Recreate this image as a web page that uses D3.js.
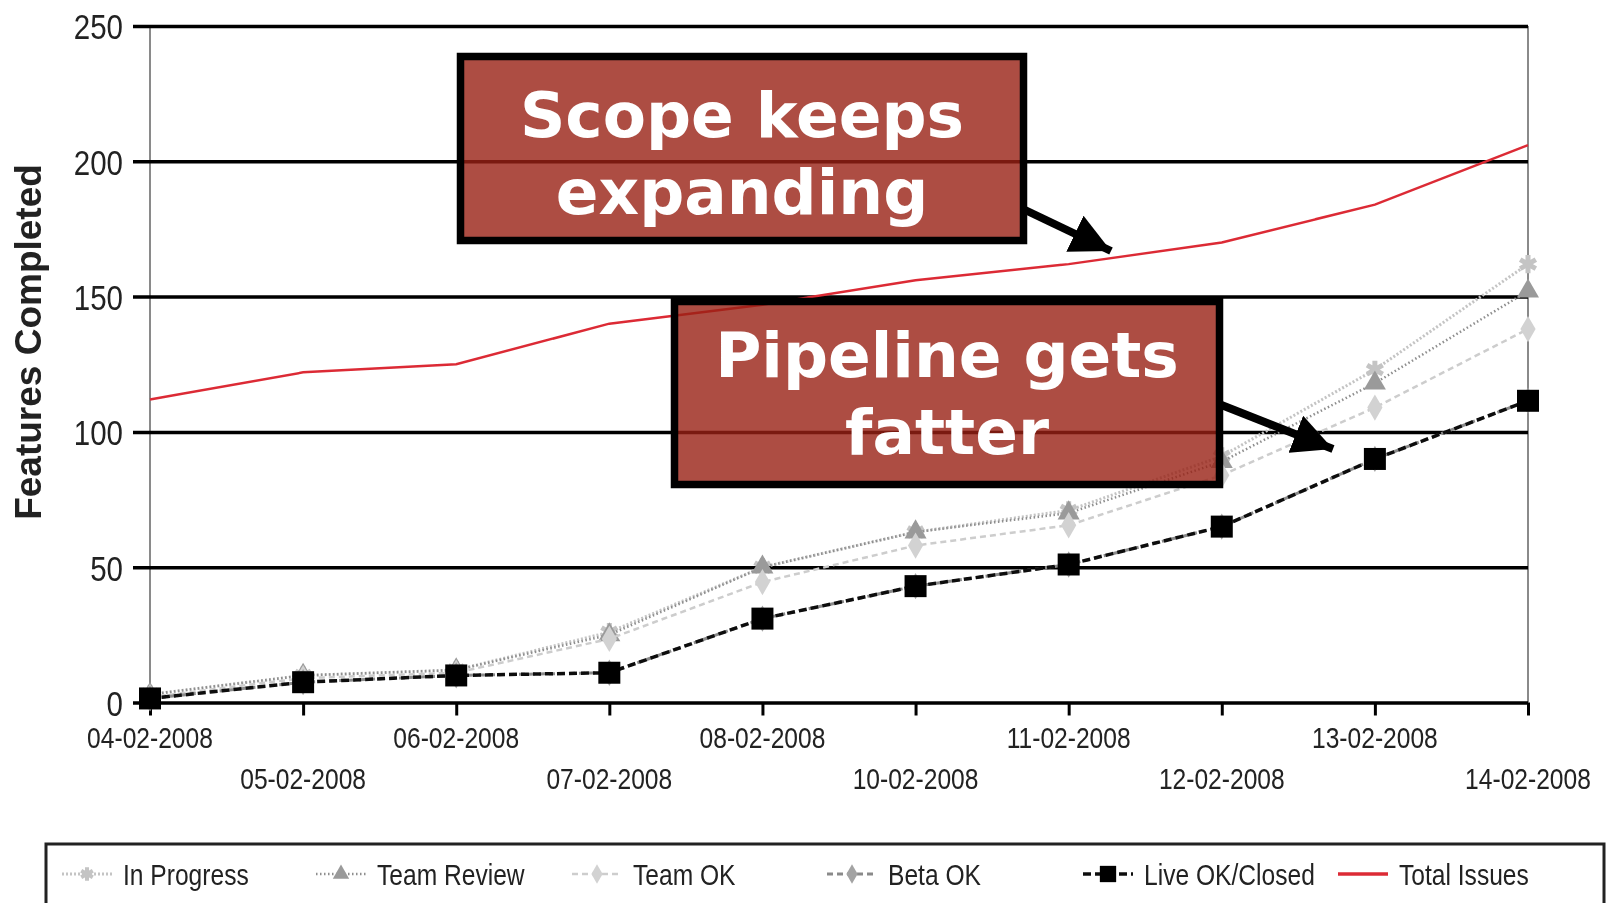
<!DOCTYPE html>
<html>
<head>
<meta charset="utf-8">
<script src="https://cdn.jsdelivr.net/npm/d3@7"></script>
<style>
  html, body { margin: 0; padding: 0; background: #fff; }
  svg { display: block; }
</style>
</head>
<body>
<svg id="chart" width="1610" height="903"></svg>
<script>
// Dates on the x axis (working days)
const dates = ["04-02-2008", "05-02-2008", "06-02-2008", "07-02-2008", "08-02-2008",
               "10-02-2008", "11-02-2008", "12-02-2008", "13-02-2008", "14-02-2008"];

// Cumulative feature counts per stage
const inProgress  = [3, 10, 12, 26, 50, 63, 71, 91, 123, 162];
const teamReview  = [3, 10, 12, 25, 50, 63, 70, 89, 118, 152];
const teamOK      = [2, 9, 11, 23.5, 44.5, 58, 65.5, 84, 109, 138];
const betaOK      = [1.5, 7.5, 10, 11, 31, 43, 51, 65, 90, 111.5];
const liveClosed  = [1.5, 7.5, 10, 11, 31, 43, 51, 65, 90, 111.5];
const totalIssues = [112, 122, 125, 140, 147, 156, 162, 170, 184, 206];

const yTicks = [0, 50, 100, 150, 200, 250];
const yTitle = "Features Completed";

const calloutScope = ["Scope keeps", "expanding"];
const calloutPipe  = ["Pipeline gets", "fatter"];

const seriesNames = ["In Progress", "Team Review", "Team OK", "Beta OK", "Live OK/Closed", "Total Issues"];

// ---- styling per series ----
const styles = [
  { values: inProgress,  color: "#c4c4c4", width: 3,   dash: "2,2", marker: d3.symbolAsterisk, mfill: "none", mstroke: "#c4c4c4", msize: 230, mwidth: 5 },
  { values: teamReview,  color: "#8e8e8e", width: 2.5, dash: "1.5,2.5", marker: d3.symbolTriangle, mfill: "#9a9a9a", mstroke: "none", msize: 210, mwidth: 0 },
  { values: teamOK,      color: "#cdcdcd", width: 2.5, dash: "6,4", marker: d3.symbolDiamond, mfill: "#d2d2d2", mstroke: "none", msize: 200, mwidth: 0 },
  { values: betaOK,      color: "#8a8a8a", width: 3,   dash: "6,4", marker: d3.symbolDiamond, mfill: "#a3a3a3", mstroke: "none", msize: 200, mwidth: 0 },
  { values: liveClosed,  color: "#111111", width: 3.5, dash: "8,4", marker: d3.symbolSquare, mfill: "#000", mstroke: "none", msize: 484, mwidth: 0 },
  { values: totalIssues, color: "#dc2b35", width: 2.5, dash: null,  marker: null }
];

const svg = d3.select("#chart");
const defs = svg.append("defs");
defs.append("filter").attr("id", "soft")
  .attr("x", "-5%").attr("y", "-5%").attr("width", "110%").attr("height", "110%")
  .append("feGaussianBlur").attr("stdDeviation", 0.6);

const plotLeft = 150, plotRight = 1528, plotTop = 26, plotBottom = 702.5;
const x = d3.scalePoint().domain(dates).range([plotLeft, plotRight]);
const y = d3.scaleLinear().domain([0, 250]).range([plotBottom, plotTop]);

const textColor = "#222";
const squeeze = 0.82; // narrow lettering used by the chart's labels

const chart = svg.append("g").attr("filter", "url(#soft)");

// vertical frame lines
chart.append("line").attr("x1", plotLeft).attr("x2", plotLeft).attr("y1", plotTop).attr("y2", plotBottom)
  .attr("stroke", "#8a8a8a").attr("stroke-width", 2);
chart.append("line").attr("x1", plotRight).attr("x2", plotRight).attr("y1", plotTop).attr("y2", plotBottom)
  .attr("stroke", "#8a8a8a").attr("stroke-width", 2);

// y axis with full-width gridlines
const yAxis = d3.axisLeft(y).tickValues(yTicks).tickSize(plotRight - 133).tickPadding(10);
const yg = chart.append("g").attr("transform", `translate(${plotRight},0)`).call(yAxis);
yg.select(".domain").remove();
yg.selectAll(".tick line").attr("stroke", "#000").attr("stroke-width", 3.5);
yg.selectAll(".tick text").each(function () {
  const t = d3.select(this);
  const tx = +t.attr("x");
  t.attr("x", 0).attr("transform", `translate(${tx},0) scale(${squeeze},1)`);
})
  .attr("font-family", "'Liberation Sans', Arial, sans-serif")
  .attr("font-size", 36).attr("fill", textColor).attr("dy", "0.36em");

// x axis ticks
const xAxis = d3.axisBottom(x).tickSize(13).tickFormat("");
const xg = chart.append("g").attr("transform", `translate(0,${plotBottom})`).call(xAxis);
xg.select(".domain").remove();
xg.selectAll(".tick line").attr("stroke", "#000").attr("stroke-width", 3);

// x tick labels, staggered on two rows
chart.append("g").selectAll("text").data(dates).join("text")
  .attr("transform", (d, i) => `translate(${x(d)},${i % 2 === 0 ? 748 : 789}) scale(${squeeze},1)`)
  .attr("text-anchor", "middle")
  .attr("font-family", "'Liberation Sans', Arial, sans-serif")
  .attr("font-size", 30).attr("fill", textColor)
  .text(d => d);

// y axis title
chart.append("text")
  .attr("transform", "translate(41,342) rotate(-90)")
  .attr("text-anchor", "middle")
  .attr("font-family", "'Liberation Sans', Arial, sans-serif")
  .attr("font-weight", "bold").attr("font-size", 37).attr("fill", textColor)
  .text(yTitle);

// series lines and markers
const line = d3.line().x((d, i) => x(dates[i])).y(d => y(d));
styles.forEach(s => {
  const g = chart.append("g");
  g.append("path").datum(s.values)
    .attr("d", line).attr("fill", "none")
    .attr("stroke", s.color).attr("stroke-width", s.width)
    .attr("stroke-dasharray", s.dash);
  if (s.marker) {
    g.selectAll("path.m").data(s.values).join("path").attr("class", "m")
      .attr("transform", (d, i) => `translate(${x(dates[i])},${y(d)})`)
      .attr("d", d3.symbol(s.marker, s.msize))
      .attr("fill", s.mfill).attr("stroke", s.mstroke).attr("stroke-width", s.mwidth);
  }
});

// legend
const legend = chart.append("g");
legend.append("rect").attr("x", 46).attr("y", 844).attr("width", 1558).attr("height", 80)
  .attr("fill", "#fff").attr("stroke", "#222").attr("stroke-width", 3);
const legendX = [62, 316, 572, 827, 1083, 1338];
const ly = 874;
styles.forEach((s, i) => {
  const g = legend.append("g").attr("transform", `translate(${legendX[i]},${ly})`);
  g.append("line").attr("x1", 0).attr("x2", 50).attr("y1", 0).attr("y2", 0)
    .attr("stroke", s.color).attr("stroke-width", s.marker ? s.width : 3.5)
    .attr("stroke-dasharray", s.dash);
  if (s.marker) {
    g.append("path").attr("transform", "translate(25,0)")
      .attr("d", d3.symbol(s.marker, s.msize * 0.55))
      .attr("fill", s.mfill).attr("stroke", s.mstroke).attr("stroke-width", s.mwidth * 0.8);
  }
  g.append("text")
    .attr("transform", `translate(61,11) scale(${squeeze},1)`)
    .attr("font-family", "'Liberation Sans', Arial, sans-serif")
    .attr("font-size", 30).attr("fill", textColor)
    .text(seriesNames[i]);
});

// ---- callouts ----
const notes = svg.append("g");
defs.append("marker").attr("id", "head")
  .attr("viewBox", "0 0 10 10").attr("refX", 10).attr("refY", 5)
  .attr("markerUnits", "userSpaceOnUse")
  .attr("markerWidth", 40).attr("markerHeight", 40).attr("orient", "auto")
  .append("path").attr("d", "M0,0 L10,5 L0,10 Z").attr("fill", "#000");

function callout(box, lines, baselines, arrow) {
  notes.append("line")
    .attr("x1", arrow[0]).attr("y1", arrow[1]).attr("x2", arrow[2]).attr("y2", arrow[3])
    .attr("stroke", "#000").attr("stroke-width", 8)
    .attr("marker-end", "url(#head)");
  notes.append("rect")
    .attr("x", box[0] + 3.5).attr("y", box[1] + 3.5)
    .attr("width", box[2] - box[0] - 7).attr("height", box[3] - box[1] - 7)
    .attr("fill", "rgb(153,33,20)").attr("fill-opacity", 0.8)
    .attr("stroke", "#000").attr("stroke-width", 7.5);
  const cx = (box[0] + box[2]) / 2;
  lines.forEach((t, i) => {
    notes.append("text")
      .attr("x", cx).attr("y", baselines[i])
      .attr("text-anchor", "middle")
      .attr("font-family", "'DejaVu Sans', Verdana, sans-serif")
      .attr("font-weight", "bold").attr("font-size", 63)
      .attr("fill", "#fff")
      .text(t);
  });
}

callout([457, 53, 1027, 244], calloutScope, [137, 214], [1023, 209, 1111, 251]);
callout([671, 298, 1223, 488], calloutPipe, [377, 454], [1219, 404, 1333, 449]);
</script>
</body>
</html>
